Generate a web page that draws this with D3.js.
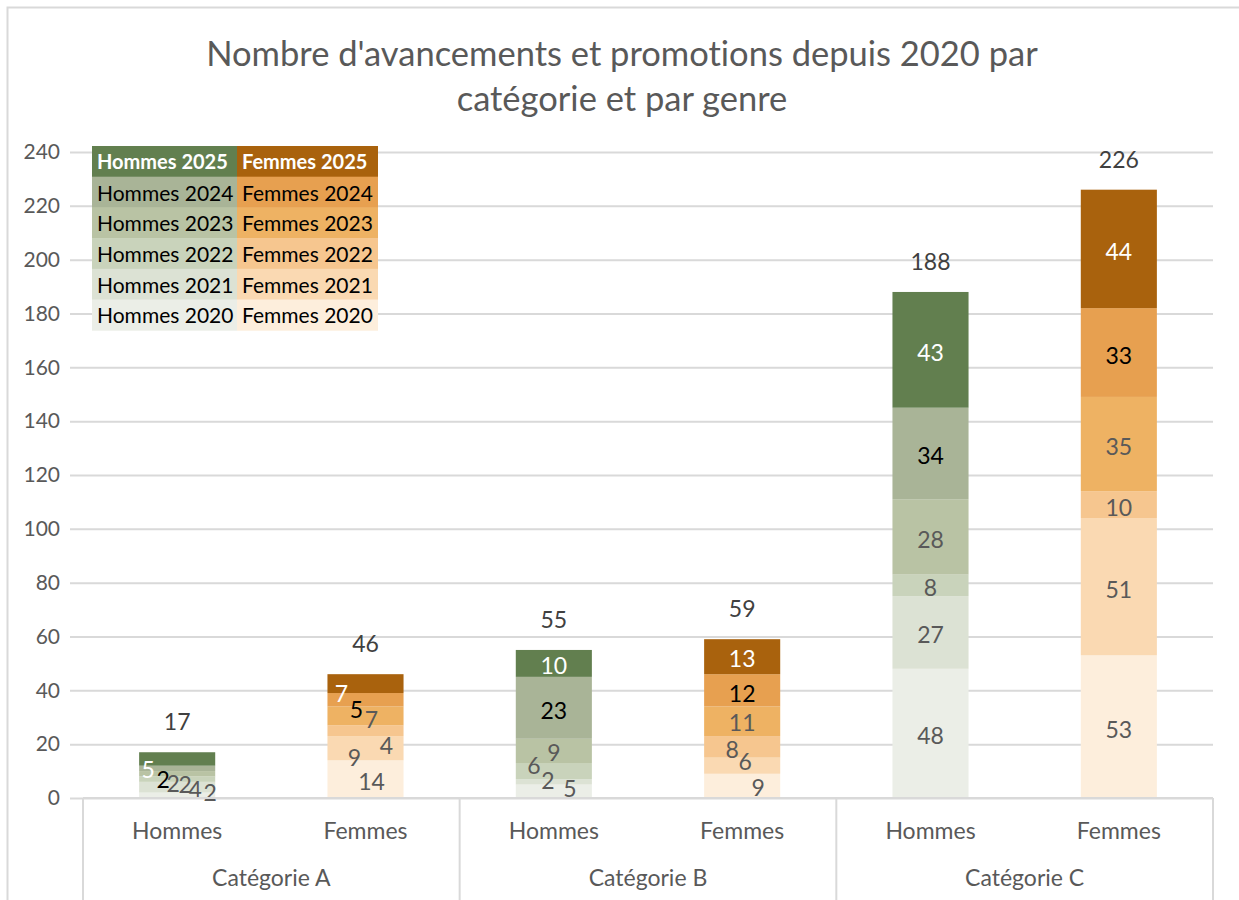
<!DOCTYPE html>
<html>
<head>
<meta charset="utf-8">
<script src="https://cdn.jsdelivr.net/npm/d3@7"></script>
<style>
  body { margin: 0; background: #fff; }
  svg { font-family: Lato, "Liberation Sans", sans-serif; font-variant-ligatures: none; }
</style>
</head>
<body>
<div id="wrapper"></div>
<script>
// data
const categories = ["Catégorie A", "Catégorie B", "Catégorie C"]
const genders = ["Hommes", "Femmes"]
const years = ["2020", "2021", "2022", "2023", "2024", "2025"]
const yTicks = [0, 20, 40, 60, 80, 100, 120, 140, 160, 180, 200, 220, 240]

// values per category, years 2020 -> 2025
const hommesValues = [
  [2, 4, 2, 2, 2, 5],
  [5, 2, 6, 9, 23, 10],
  [48, 27, 8, 28, 34, 43]
]
const femmesValues = [
  [14, 9, 4, 7, 5, 7],
  [9, 6, 8, 11, 12, 13],
  [53, 51, 10, 35, 33, 44]
]

// colours per year
const hommesColors = ["#ebeee7", "#dce2d4", "#c9d3bb", "#b9c3a4", "#a9b497", "#627f4f"]
const femmesColors = ["#fdeedc", "#fad9b2", "#f6c68f", "#eeb263", "#e7a050", "#a9620d"]
const labelColors = ["#595959", "#595959", "#595959", "#595959", "#000000", "#ffffff"]

// hand-placed label nudges for the thin segments [dx, dy] per year
const labelNudges = {
  "0-Hommes": [[33, -3], [18, 2], [8, 5], [-4, 9], [-14, 11], [-29, 10]],
  "0-Femmes": [[6, 2], [-11, 9], [21, 14], [6, 3], [-9, 9], [-24, 9]],
  "1-Hommes": [[16, -3], [-6, -2], [-20, -6], [0, 1], [0, 2], [0, 2]],
  "1-Femmes": [[16, 1], [3, -5], [-10, 2], [0, 1], [0, 3], [0, 1]]
}

function drawChart() {
  const width = 1239
  const height = 900
  const plot = { left: 83, right: 1213, top: 152, bottom: 798 }

  const svg = d3.select("#wrapper")
    .append("svg")
      .attr("width", width)
      .attr("height", height)

  // chart frame
  svg.append("rect")
    .attr("x", 7.5).attr("y", 7.5)
    .attr("width", width).attr("height", height)
    .attr("fill", "none")
    .attr("stroke", "#d9d9d9")
    .attr("stroke-width", 2)

  // title
  const title = svg.append("text")
    .attr("text-anchor", "middle")
    .attr("fill", "#595959")
    .style("font-size", "34.5px")
  title.append("tspan").attr("x", 622).attr("y", 66)
    .text("Nombre d'avancements et promotions depuis 2020 par")
  title.append("tspan").attr("x", 622).attr("y", 111)
    .text("catégorie et par genre")

  // rows: one per bar
  const rows = []
  categories.forEach((cat, ci) => {
    genders.forEach(g => {
      const values = g === "Hommes" ? hommesValues[ci] : femmesValues[ci]
      const row = { key: `${ci}-${g}`, cat: ci, gender: g }
      years.forEach((y, yi) => { row[y] = values[yi] })
      rows.push(row)
    })
  })

  // scales
  const xScale = d3.scaleBand()
    .domain(rows.map(d => d.key))
    .range([plot.left, plot.right])
    .paddingInner(0.596)
    .paddingOuter(0.298)

  const catScale = d3.scaleBand()
    .domain(categories)
    .range([plot.left, plot.right])

  const yScale = d3.scaleLinear()
    .domain([0, 240])
    .range([plot.bottom, plot.top])

  // gridlines + y axis
  const yAxis = svg.append("g")
    .attr("transform", "translate(70,0)")
    .call(d3.axisLeft(yScale)
      .tickValues(yTicks)
      .tickSize(-(plot.right - 70))
      .tickPadding(10))
  yAxis.select(".domain").remove()
  yAxis.selectAll(".tick line")
    .attr("stroke", "#d9d9d9")
    .attr("stroke-width", 2)
  yAxis.selectAll(".tick text")
    .attr("fill", "#595959")
    .style("font-size", "21px")
    .style("font-family", "Lato, sans-serif")

  // stacked bars
  const stacked = d3.stack().keys(years)(rows)
  const segments = stacked.flatMap(layer => layer.map(seg => ({ seg, yi: layer.index })))

  svg.append("g")
    .selectAll("rect")
    .data(segments)
    .join("rect")
      .attr("x", d => xScale(d.seg.data.key))
      .attr("width", xScale.bandwidth())
      .attr("y", d => yScale(d.seg[1]))
      .attr("height", d => yScale(d.seg[0]) - yScale(d.seg[1]))
      .attr("fill", d => d.seg.data.gender === "Hommes"
        ? hommesColors[d.yi] : femmesColors[d.yi])

  // segment labels, on top of every bar
  svg.append("g")
    .selectAll("text")
    .data(segments)
    .join("text")
      .attr("text-anchor", "middle")
      .attr("dominant-baseline", "central")
      .attr("x", d => {
        const n = labelNudges[d.seg.data.key]
        return xScale(d.seg.data.key) + xScale.bandwidth() / 2 + (n ? n[d.yi][0] : 0)
      })
      .attr("y", d => {
        const n = labelNudges[d.seg.data.key]
        return (yScale(d.seg[0]) + yScale(d.seg[1])) / 2 + (n ? n[d.yi][1] : 2)
      })
      .attr("fill", d => labelColors[d.yi])
      .style("font-size", "23px")
      .text(d => d.seg[1] - d.seg[0])

  // totals
  svg.append("g")
    .selectAll("text")
    .data(rows)
    .join("text")
      .attr("text-anchor", "middle")
      .attr("dominant-baseline", "central")
      .attr("x", d => xScale(d.key) + xScale.bandwidth() / 2)
      .attr("y", d => yScale(d3.sum(years, y => d[y])) - 31)
      .attr("fill", "#404040")
      .style("font-size", "23px")
      .text(d => d3.sum(years, y => d[y]))

  // x axis: two levels
  const xAxis = svg.append("g")
  xAxis.append("line")
    .attr("x1", plot.left).attr("x2", plot.right)
    .attr("y1", plot.bottom).attr("y2", plot.bottom)
    .attr("stroke", "#d9d9d9").attr("stroke-width", 2)
  xAxis.selectAll(".sep")
    .data(categories.map(c => catScale(c)).concat([plot.right]))
    .join("line")
      .attr("class", "sep")
      .attr("x1", d => d).attr("x2", d => d)
      .attr("y1", plot.bottom).attr("y2", height)
      .attr("stroke", "#d9d9d9").attr("stroke-width", 2)
  xAxis.selectAll(".gender")
    .data(rows)
    .join("text")
      .attr("class", "gender")
      .attr("text-anchor", "middle")
      .attr("dominant-baseline", "central")
      .attr("x", d => xScale(d.key) + xScale.bandwidth() / 2)
      .attr("y", 830)
      .attr("fill", "#595959")
      .style("font-size", "23px")
      .text(d => d.gender)
  xAxis.selectAll(".cat")
    .data(categories)
    .join("text")
      .attr("class", "cat")
      .attr("text-anchor", "middle")
      .attr("dominant-baseline", "central")
      .attr("x", d => catScale(d) + catScale.bandwidth() / 2)
      .attr("y", 877)
      .attr("fill", "#595959")
      .style("font-size", "23px")
      .text(d => d)

  // legend table
  const legendRows = years.slice().reverse()
  const legend = svg.append("g").attr("transform", "translate(92,146)")
  const rowH = 30.7
  legendRows.forEach((y, i) => {
    const yi = years.indexOf(y)
    genders.forEach((g, gi) => {
      const cx = gi === 0 ? 0 : 145
      const w = gi === 0 ? 145 : 141
      legend.append("rect")
        .attr("x", cx).attr("y", i * rowH)
        .attr("width", w).attr("height", rowH + 0.5)
        .attr("fill", g === "Hommes" ? hommesColors[yi] : femmesColors[yi])
      legend.append("text")
        .attr("x", cx + 5)
        .attr("y", i * rowH + rowH / 2)
        .attr("dominant-baseline", "central")
        .attr("fill", yi === 5 ? "#ffffff" : "#000000")
        .style("font-size", yi === 5 ? "20px" : "21px")
        .style("font-weight", yi === 5 ? "bold" : "normal")
        .text(`${g} ${y}`)
    })
  })
}

drawChart()
</script>
</body>
</html>
